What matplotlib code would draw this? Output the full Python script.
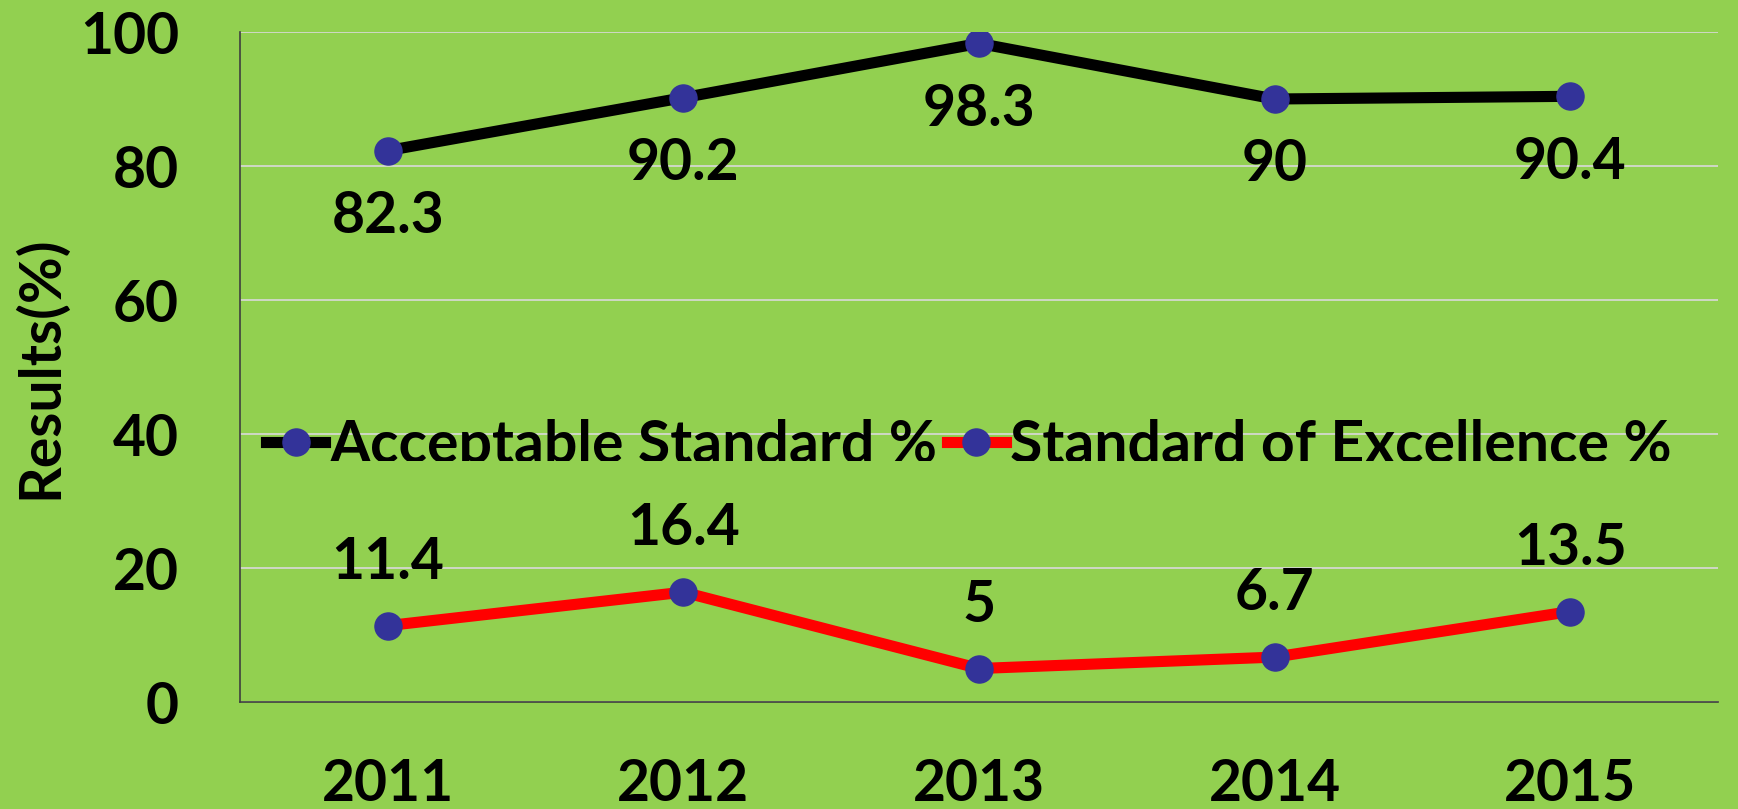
import matplotlib
matplotlib.use("Agg")
import matplotlib.pyplot as plt
from matplotlib.transforms import Bbox, TransformedBbox

years = ["2011", "2012", "2013", "2014", "2015"]
acceptable = [82.3, 90.2, 98.3, 90, 90.4]
excellence = [11.4, 16.4, 5, 6.7, 13.5]
series_names = ["Acceptable Standard %", "Standard of Excellence %"]
y_ticks = [0, 20, 40, 60, 80, 100]

BG = "#92D050"
MARK = "#333399"
FONT = "Lato"
FS = 41

W, H = 1738, 809
fig = plt.figure(figsize=(W / 100, H / 100), dpi=100, facecolor=BG)
ax = fig.add_axes([240 / W, 1 - 702 / H, 1478 / W, 670 / H], facecolor=BG)

x = list(range(len(years)))
l1, = ax.plot(x, acceptable, color="black", lw=8, marker="o", ms=19.5,
              mfc=MARK, mec=MARK, label=series_names[0], zorder=3)
l2, = ax.plot(x, excellence, color="#FF0000", lw=8, marker="o", ms=19.5,
              mfc=MARK, mec=MARK, label=series_names[1], zorder=3)

for xi, v in zip(x, acceptable):
    ax.annotate(f"{v:g}", (xi, v), xytext=(0, -47.5), textcoords="offset points",
                ha="center", va="center", fontsize=FS, fontweight="bold",
                family=FONT, color="black", zorder=4)
for xi, v in zip(x, excellence):
    ax.annotate(f"{v:g}", (xi, v), xytext=(0, 45.5), textcoords="offset points",
                ha="center", va="center", fontsize=FS, fontweight="bold",
                family=FONT, color="black", zorder=4)

ax.set_xlim(-0.5, len(years) - 0.5)
ax.set_ylim(0, 100)
ax.set_yticks(y_ticks)
ax.set_xticks(x, years)
ax.grid(axis="y", color="#D9D9D9", lw=1.2, zorder=0)
ax.set_axisbelow(True)
for s in ["top", "right"]:
    ax.spines[s].set_visible(False)
for s in ["left", "bottom"]:
    ax.spines[s].set_color("#3F3F3F")
    ax.spines[s].set_linewidth(1.2)
ax.tick_params(axis="both", length=0, labelsize=FS)
ax.tick_params(axis="y", pad=44)
ax.tick_params(axis="x", pad=40)
for lab in ax.get_xticklabels() + ax.get_yticklabels():
    lab.set_fontweight("bold")
    lab.set_family(FONT)

ax.set_ylabel("Results(%)", fontsize=FS, fontweight="bold", family=FONT)
ax.yaxis.set_label_coords(-0.117, 0.5)

leg = ax.legend(handles=[l1, l2], ncol=2, frameon=False, loc="center left",
                bbox_to_anchor=(266 / W, 1 - 446 / H), bbox_transform=fig.transFigure,
                prop={"family": FONT, "weight": "bold", "size": 42.5},
                handlelength=1.0, handletextpad=0.08, columnspacing=0.15,
                borderpad=0, borderaxespad=0)
clip = TransformedBbox(Bbox([[0, 1 - 461 / H], [1, 1]]), fig.transFigure)
for t in leg.get_texts():
    t.set_clip_box(clip)
    t.set_clip_on(True)

fig.savefig("out.png", dpi=100, facecolor=BG)
